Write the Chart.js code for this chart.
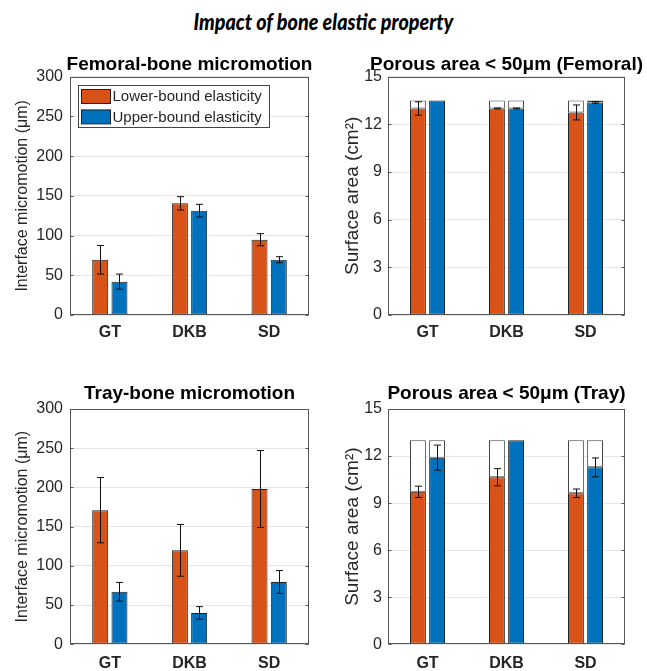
<!DOCTYPE html>
<html><head><meta charset="utf-8">
<script src="https://cdn.jsdelivr.net/npm/chart.js@4.4.1/dist/chart.umd.min.js"></script>
<style>
html,body{margin:0;padding:0;background:#fff;overflow:hidden;width:647px;height:671px;}
#titleWrap{position:absolute;left:0;top:7px;width:647px;text-align:center;}
#title{display:inline-block;font:italic 900 23px 'Lato','Open Sans',sans-serif;color:#000;line-height:28px;white-space:nowrap;transform-origin:50% 50%;}
.box{position:absolute;}
</style></head><body>
<div id="titleWrap"><span id="title">Impact of bone elastic property</span></div>
<div class="box" style="left:0;top:40px;width:320px;height:305px"><canvas id="c1"></canvas></div>
<div class="box" style="left:320px;top:40px;width:327px;height:305px"><canvas id="c2"></canvas></div>
<div class="box" style="left:0;top:370px;width:320px;height:301px"><canvas id="c3"></canvas></div>
<div class="box" style="left:320px;top:370px;width:327px;height:301px"><canvas id="c4"></canvas></div>
<script>
// ---- data ----
const categories = ['GT', 'DKB', 'SD'];
const seriesNames = ['Lower-bound elasticity', 'Upper-bound elasticity'];

const femMicroLower    = [69.5, 140.6, 94.8];
const femMicroLowerErr = [18, 8.4, 7.6];
const femMicroUpper    = [42, 131.3, 69.6];
const femMicroUpperErr = [9.5, 8, 3.8];

const trayMicroLower    = [171, 119.8, 198];
const trayMicroLowerErr = [41.6, 33, 49];
const trayMicroUpper    = [67, 40, 79.5];
const trayMicroUpperErr = [11.9, 8, 14.5];

const femPorousTotal    = [13.5, 13.5, 13.5];
const femPorousLower    = [13.0, 13.0, 12.75];
const femPorousLowerErr = [0.42, 0.03, 0.47];
const femPorousUpper    = [13.5, 13.0, 13.38];
const femPorousUpperErr = [0, 0.03, 0.05];

const trayPorousTotal    = [13, 13, 13];
const trayPorousLower    = [9.72, 10.65, 9.63];
const trayPorousLowerErr = [0.36, 0.55, 0.27];
const trayPorousUpper    = [11.9, 13.0, 11.28];
const trayPorousUpperErr = [0.8, 0, 0.6];

const microTicks  = [0, 50, 100, 150, 200, 250, 300];
const porousTicks = [0, 3, 6, 9, 12, 15];

// ---- main title width fit (reference text spans ~259px) ----
(function () {
  const t = document.getElementById('title');
  const w = t.getBoundingClientRect().width;
  if (w > 0) t.style.transform = 'scaleX(' + (260 / w) + ')';
})();

// ---- style ----
const FONT = "'Liberation Sans', Arial, Helvetica, sans-serif";
const TXT = '#262626';
const ORANGE = '#D95319';
const BLUE = '#0072BD';

const errorBars = {
  id: 'errorBars',
  afterDatasetsDraw(chart) {
    const ctx = chart.ctx, y = chart.scales.y;
    chart.data.datasets.forEach((ds, di) => {
      if (!ds.errors) return;
      const meta = chart.getDatasetMeta(di);
      meta.data.forEach((el, i) => {
        const e = ds.errors[i];
        if (!e) return;
        const v = ds.data[i];
        const yt = y.getPixelForValue(v + e), yb = y.getPixelForValue(v - e);
        const x = Math.round(el.x) + 0.5;
        ctx.save();
        ctx.strokeStyle = '#111'; ctx.lineWidth = 1;
        ctx.beginPath();
        ctx.moveTo(x, yt); ctx.lineTo(x, yb);
        ctx.moveTo(x - 3.5, yt); ctx.lineTo(x + 3.5, yt);
        ctx.moveTo(x - 3.5, yb); ctx.lineTo(x + 3.5, yb);
        ctx.stroke();
        ctx.restore();
      });
    });
  }
};

const axesBox = {
  id: 'axesBox',
  afterDraw(chart) {
    const {left, top, right, bottom} = chart.chartArea;
    const ctx = chart.ctx, y = chart.scales.y;
    const L = Math.round(left) + 0.5, R = Math.round(right) - 0.5;
    const T = Math.round(top) + 0.5, B = Math.round(bottom) - 0.5;
    ctx.save();
    ctx.strokeStyle = '#555'; ctx.lineWidth = 1;
    ctx.strokeRect(L, T, R - L, B - T);
    ctx.beginPath();
    y.ticks.forEach(t => {
      const py = Math.round(y.getPixelForValue(t.value)) + 0.5;
      ctx.moveTo(L, py); ctx.lineTo(L + 3, py);
      ctx.moveTo(R, py); ctx.lineTo(R - 3, py);
    });
    ctx.stroke();
    // subplot title, centred over the axes box
    const opt = chart.options.plugins.axesBox;
    if (opt && opt.text) {
      ctx.fillStyle = '#000';
      ctx.font = 'bold ' + opt.size + 'px ' + FONT;
      ctx.textAlign = 'center';
      ctx.textBaseline = 'middle';
      ctx.fillText(opt.text, (left + right) / 2, opt.y);
    }
    ctx.restore();
  }
};

const insideLegend = {
  id: 'insideLegend',
  afterDraw(chart) {
    const ctx = chart.ctx, a = chart.chartArea;
    const x0 = Math.round(a.left + 8) + 0.5, y0 = Math.round(a.top + 8.3) + 0.5;
    const w = 191, h = 42;
    ctx.save();
    ctx.fillStyle = '#fff'; ctx.fillRect(x0, y0, w, h);
    ctx.strokeStyle = '#444'; ctx.lineWidth = 1; ctx.strokeRect(x0, y0, w, h);
    const colors = [ORANGE, BLUE];
    seriesNames.forEach((name, i) => {
      const cy = y0 + 11 + i * 20.4;
      ctx.fillStyle = colors[i];
      ctx.fillRect(x0 + 3, cy - 7, 29, 14);
      ctx.strokeStyle = '#222';
      ctx.strokeRect(x0 + 3, cy - 7, 29, 14);
      ctx.fillStyle = TXT;
      ctx.font = "15px " + FONT;
      ctx.textBaseline = 'middle';
      ctx.fillText(name, x0 + 34, cy + 0.5);
    });
    ctx.restore();
  }
};

function makeChart(id, cfg) {
  const datasets = [];
  const common = {borderWidth: 1, borderSkipped: false, categoryPercentage: 0.484, barPercentage: 0.83};
  if (cfg.totals) {
    datasets.push(Object.assign({label: seriesNames[0], data: cfg.lower, errors: cfg.lowerErr, backgroundColor: ORANGE, borderColor: '#222', stack: 'a'}, common));
    datasets.push(Object.assign({label: 'rest-a', data: cfg.totals.map((t, i) => t - cfg.lower[i]), backgroundColor: '#fff', borderColor: '#444', stack: 'a'}, common));
    datasets.push(Object.assign({label: seriesNames[1], data: cfg.upper, errors: cfg.upperErr, backgroundColor: BLUE, borderColor: '#222', stack: 'b'}, common));
    datasets.push(Object.assign({label: 'rest-b', data: cfg.totals.map((t, i) => t - cfg.upper[i]), backgroundColor: '#fff', borderColor: '#444', stack: 'b'}, common));
  } else {
    datasets.push(Object.assign({label: seriesNames[0], data: cfg.lower, errors: cfg.lowerErr, backgroundColor: ORANGE, borderColor: '#222'}, common));
    datasets.push(Object.assign({label: seriesNames[1], data: cfg.upper, errors: cfg.upperErr, backgroundColor: BLUE, borderColor: '#222'}, common));
  }
  const ticks = cfg.ticks;
  return new Chart(document.getElementById(id), {
    type: 'bar',
    data: {labels: categories, datasets},
    options: {
      responsive: true, maintainAspectRatio: false, animation: false,
      layout: {padding: {left: 0, right: cfg.padRight, top: cfg.padTop, bottom: 0}},
      plugins: {
        legend: {display: false}, tooltip: {enabled: false}, title: {display: false},
        axesBox: {text: cfg.title, size: 19, y: cfg.titleY}
      },
      scales: {
        x: {
          offset: true,
          grid: {display: false, drawTicks: false}, border: {display: false},
          ticks: {color: TXT, font: {family: FONT, size: 16, weight: 'bold'}, padding: cfg.xPad},
          afterFit: s => { s.height = cfg.xH; }
        },
        y: {
          stacked: !!cfg.totals,
          min: ticks[0], max: ticks[ticks.length - 1],
          grid: {color: '#e6e6e6', drawTicks: false}, border: {display: false},
          ticks: {color: TXT, font: {family: FONT, size: 16}, padding: cfg.yPad},
          title: {display: true, text: cfg.yTitle, color: TXT, font: {family: FONT, size: cfg.yTitleSize},
                  padding: {top: cfg.yTitlePad, bottom: 0}},
          afterBuildTicks: s => { s.ticks = ticks.map(v => ({value: v})); },
          afterFit: s => { s.width = cfg.yW; }
        }
      }
    },
    plugins: [errorBars, axesBox].concat(cfg.legend ? [insideLegend] : [])
  });
}

makeChart('c1', {
  title: 'Femoral-bone micromotion', yTitle: 'Interface micromotion (μm)', yTitleSize: 16,
  lower: femMicroLower, lowerErr: femMicroLowerErr, upper: femMicroUpper, upperErr: femMicroUpperErr,
  ticks: microTicks, padRight: 11, yW: 70, yPad: 7, yTitlePad: 12.5,
  padTop: 36.7, titleY: 25, xH: 30, xPad: 8, legend: true
});
makeChart('c2', {
  title: 'Porous area < 50μm (Femoral)', yTitle: 'Surface area (cm²)', yTitleSize: 19,
  lower: femPorousLower, lowerErr: femPorousLowerErr, upper: femPorousUpper, upperErr: femPorousUpperErr,
  totals: femPorousTotal,
  ticks: porousTicks, padRight: 22, yW: 68, yPad: 6, yTitlePad: 21,
  padTop: 36.7, titleY: 25, xH: 30, xPad: 8
});
makeChart('c3', {
  title: 'Tray-bone micromotion', yTitle: 'Interface micromotion (μm)', yTitleSize: 16,
  lower: trayMicroLower, lowerErr: trayMicroLowerErr, upper: trayMicroUpper, upperErr: trayMicroUpperErr,
  ticks: microTicks, padRight: 11, yW: 70, yPad: 7, yTitlePad: 12.5,
  padTop: 39, titleY: 23.5, xH: 26.7, xPad: 10
});
makeChart('c4', {
  title: 'Porous area < 50μm (Tray)', yTitle: 'Surface area (cm²)', yTitleSize: 19,
  lower: trayPorousLower, lowerErr: trayPorousLowerErr, upper: trayPorousUpper, upperErr: trayPorousUpperErr,
  totals: trayPorousTotal,
  ticks: porousTicks, padRight: 22, yW: 68, yPad: 6, yTitlePad: 21,
  padTop: 39, titleY: 23.5, xH: 26.7, xPad: 10
});
</script>
</body></html>
